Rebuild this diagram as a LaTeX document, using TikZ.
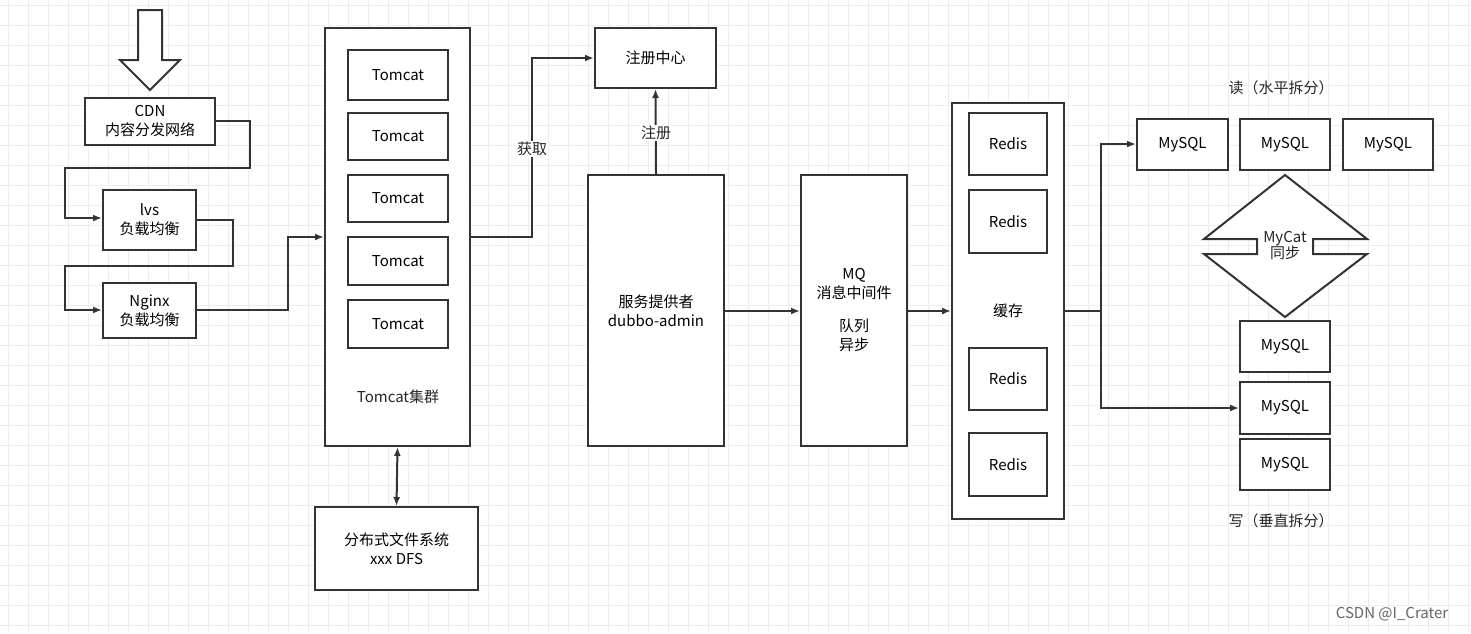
\documentclass[tikz,border=0pt]{standalone}
\usepackage{fontspec}
\setmainfont{Noto Sans CJK SC}
\begin{document}
\begin{tikzpicture}[x=1pt,y=-1pt,
  bx/.style={draw=black!80,line width=2pt,fill=white,inner sep=0pt,align=center,font=\fontsize{15}{19}\selectfont},
  ln/.style={draw=black!80,line width=2pt},
  ar/.style={ln,-{Latex[length=9pt,width=7pt]}},
  lab/.style={font=\fontsize{15}{19}\selectfont,text=black!85,align=center,fill=white,inner sep=1pt}]
\usetikzlibrary{arrows.meta}
\useasboundingbox (0,0) rectangle (1471,633);
\fill[white] (0,0) rectangle (1471,633);
\foreach \i in {0,20,...,1460} \draw[black!7,line width=0.8pt] (\i+8,0) -- (\i+8,633);
\foreach \j in {0,20,...,620} \draw[black!7,line width=0.8pt] (0,\j+5) -- (1471,\j+5);
% hollow arrow
\draw[ln,fill=white] (138,10) -- (162,10) -- (162,60) -- (180,60) -- (150,90) -- (120,60) -- (138,60) -- cycle;
\def\B#1#2#3#4#5#6{\node[bx,minimum width=#4-#2,minimum height=#5-#3] (#1) at ({(#2+#4)/2},{(#3+#5)/2}) {#6};}
\B{cdn}{85}{98}{215}{145}{CDN\\内容分发网络}
\B{lvs}{103}{190}{196}{250}{lvs\\负载均衡}
\B{ngx}{103}{283}{196}{338}{Nginx\\负载均衡}
\B{tc}{325}{28}{470}{446}{}
\node[lab,fill=none] (tcl) at (398,397) {Tomcat集群};
\B{t1}{348}{50}{448}{100}{Tomcat}
\B{t2}{348}{113}{448}{160}{Tomcat}
\B{t3}{348}{175}{448}{222}{Tomcat}
\B{t4}{348}{237}{448}{285}{Tomcat}
\B{t5}{348}{300}{448}{348}{Tomcat}
\B{reg}{595}{28}{716}{88}{注册中心}
\B{prov}{588}{175}{724}{446}{服务提供者\\dubbo-admin}
\B{dfs}{315}{507}{478}{590}{分布式文件系统\\xxx DFS}
\B{mq}{801}{175}{907}{446}{MQ\\消息中间件\\[14pt]队列\\异步}
\B{cache}{952}{103}{1064}{519}{缓存}
\B{r1}{969}{113}{1047}{175}{Redis}
\B{r2}{969}{190}{1047}{253}{Redis}
\B{r3}{969}{348}{1047}{410}{Redis}
\B{r4}{969}{433}{1047}{496}{Redis}
\B{m1}{1137}{119}{1228}{170}{MySQL}
\B{m2}{1240}{119}{1330}{170}{MySQL}
\B{m3}{1343}{119}{1433}{170}{MySQL}
\B{m4}{1240}{321}{1330}{372}{MySQL}
\B{m5}{1240}{382}{1330}{434}{MySQL}
\B{m6}{1240}{439}{1330}{490}{MySQL}
\draw[ln,fill=white] (1285,175) -- (1367,239) -- (1313,239) -- (1313,254) -- (1367,254) -- (1285,317) -- (1204,254) -- (1257,254) -- (1257,239) -- (1204,239) -- cycle;
\node[lab,fill=none] (mycat) at (1285,246) {MyCat\\[-3pt]同步};
\node[lab,fill=none] (rd) at (1281,88) {读（水平拆分）};
\node[lab,fill=none] (wr) at (1281,521) {写（垂直拆分）};
\node[font=\fontsize{15}{18}\selectfont,text=black!60] (wm) at (1392,614) {CSDN @I\_Crater};
% connectors
\draw[ar] (cdn.east |- 0,121) -- (250,121) -- (250,168) -- (65,168) -- (65,218) -- (lvs.west |- 0,218);
\draw[ar] (lvs.east |- 0,220) -- (233,220) -- (233,266) -- (65,266) -- (65,310) -- (ngx.west |- 0,310);
\draw[ar] (ngx.east |- 0,310) -- (288,310) -- (288,237) -- (tc.west |- 0,237);
\draw[ar] (tc.east |- 0,237) -- (532,237) -- (532,58) -- (reg.west |- 0,58);
\node[lab] (hq) at (532,149) {获取};
\draw[ar] (prov.north) -- (reg.south);
\node[lab] (zc) at (656,133) {注册};
\draw[ln,{Latex[length=9pt,width=7pt]}-{Latex[length=9pt,width=7pt]}] (tc.south) -- (dfs.north);
\draw[ar] (prov.east |- 0,311) -- (mq.west |- 0,311);
\draw[ar] (mq.east |- 0,311) -- (cache.west |- 0,311);
\draw[ar] (cache.east |- 0,311) -- (1101,311) -- (1101,144) -- (m1.west |- 0,144);
\draw[ar] (1101,311) -- (1101,408) -- (m5.west |- 0,408);
\end{tikzpicture}
\end{document}
